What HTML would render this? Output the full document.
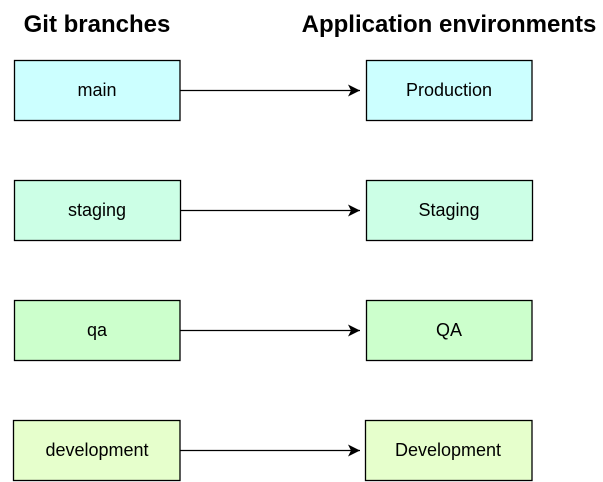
<!DOCTYPE html>
<html><head><meta charset="utf-8"><style>
html,body{margin:0;padding:0;background:#fff;width:603px;height:482px;overflow:hidden}
</style></head><body>
<svg width="603" height="482" viewBox="0 0 603 482" xmlns="http://www.w3.org/2000/svg" font-family="Liberation Sans, sans-serif">
<defs><marker id="a" markerWidth="13" markerHeight="12" refX="12" refY="6" orient="auto" markerUnits="userSpaceOnUse">
<path d="M0,0 L12,6 L0,12 L3,6 Z" fill="#000"/></marker></defs>
<text x="97" y="32" text-anchor="middle" font-size="24" font-weight="bold">Git branches</text>
<text x="449" y="32" text-anchor="middle" font-size="24" font-weight="bold">Application environments</text>
<g stroke="#000" stroke-width="1.3">
<rect x="14.5" y="60.5" width="165.5" height="60" fill="#ccffff"/>
<rect x="366.5" y="60.5" width="165.5" height="60" fill="#ccffff"/>
<rect x="14.5" y="180.5" width="166" height="60" fill="#ccffe6"/>
<rect x="366.5" y="180.5" width="166" height="60" fill="#ccffe6"/>
<rect x="14.5" y="300.5" width="165.5" height="60" fill="#ccffcc"/>
<rect x="366.5" y="300.5" width="165.5" height="60" fill="#ccffcc"/>
<rect x="13.5" y="420.5" width="166.5" height="60" fill="#e6ffcc"/>
<rect x="365.5" y="420.5" width="166.5" height="60" fill="#e6ffcc"/>
<line x1="180" y1="90.5" x2="360" y2="90.5" marker-end="url(#a)"/>
<line x1="180.5" y1="210.5" x2="360" y2="210.5" marker-end="url(#a)"/>
<line x1="180" y1="330.5" x2="360" y2="330.5" marker-end="url(#a)"/>
<line x1="180" y1="450.5" x2="360" y2="450.5" marker-end="url(#a)"/>
</g>
<g font-size="18" text-anchor="middle" fill="#000">
<text x="97" y="96">main</text>
<text x="449" y="96">Production</text>
<text x="97" y="216">staging</text>
<text x="449" y="216">Staging</text>
<text x="97" y="336">qa</text>
<text x="449" y="336">QA</text>
<text x="97" y="456">development</text>
<text x="448" y="456">Development</text>
</g>
</svg>
</body></html>
